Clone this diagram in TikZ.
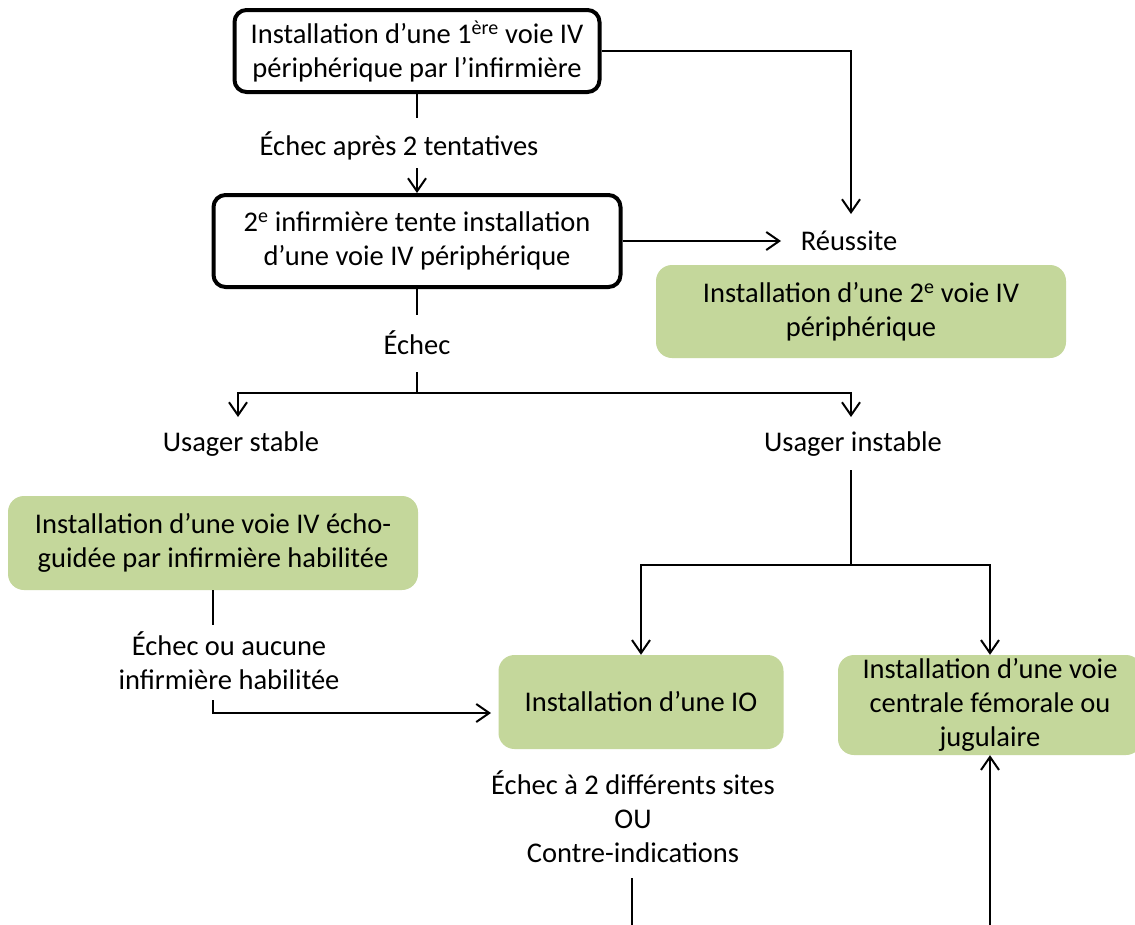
\documentclass[tikz,border=0pt]{standalone}
\usepackage{fontspec}
\setmainfont{Carlito}
\usetikzlibrary{arrows.meta}
\definecolor{gfill}{RGB}{196,215,155}
\tikzset{
  blackbox/.style={draw=black, line width=4pt, rounded corners=12pt, fill=white, align=center, inner sep=0pt},
  greenbox/.style={fill=gfill, rounded corners=16pt, align=center, inner sep=0pt},
  lbl/.style={align=center, inner sep=0pt},
  conn/.style={line width=2pt, black},
  arr/.style={conn, -{Straight Barb[length=13pt,width=18pt,line width=2pt]}},
}
\begin{document}
\begin{tikzpicture}[x=1pt,y=-1pt, font=\fontsize{28.5}{34}\selectfont]
\clip (0,0) rectangle (1135,924);
\fill[white] (0,0) rectangle (1135,924);

% boxes
\node[blackbox, minimum width=365pt, minimum height=82pt] (b1) at (417,51)
  {Installation d’une 1\textsuperscript{ère} voie IV\\périphérique par l’infirmière};
\node[blackbox, minimum width=407pt, minimum height=92pt] (b2) at (417,241)
  {2\textsuperscript{e} infirmière tente installation\\d’une voie IV périphérique};
\node[greenbox, minimum width=410pt, minimum height=93pt] (g1) at (861,311.5)
  {Installation d’une 2\textsuperscript{e} voie IV\\périphérique};
\node[greenbox, minimum width=410pt, minimum height=94pt] (g2) at (213,543)
  {Installation d’une voie IV écho-\\guidée par infirmière habilitée};
\node[greenbox, minimum width=285pt, minimum height=94pt] (g3) at (641,702)
  {Installation d’une IO};
\node[greenbox, minimum width=304pt, minimum height=100pt] (g4) at (990,705)
  {Installation d’une voie\\centrale fémorale ou\\jugulaire};

% labels
\node[lbl] (l1) at (399,146) {Échec après 2 tentatives};
\node[lbl] (reussite) at (849,241) {Réussite};
\node[lbl] (l2) at (417,343) {Échec};
\node[lbl] (stable) at (241,444) {Usager stable};
\node[lbl] (instable) at (853,444) {Usager instable};
\node[lbl] (l3) at (229,661) {Échec ou aucune\\infirmière habilitée};
\node[lbl] (l4) at (633,817) {Échec à 2 différents sites\\OU\\Contre-indications};

% coordinates
\coordinate (c1a) at (417,118);
\coordinate (c1b) at (417,168);
\coordinate (r1) at (851,214);
\coordinate (r2) at (781,241);
\coordinate (c2a) at (417,315);
\coordinate (c2b) at (417,372);
\coordinate (c2c) at (417,393);
\coordinate (s1) at (238,417);
\coordinate (s2) at (851,417);
\coordinate (c3a) at (851,470);
\coordinate (c3b) at (851,565);
\coordinate (c4a) at (213,625);
\coordinate (c4b) at (213,700);
\coordinate (c4c) at (491,713);
\coordinate (c5a) at (632,878);
\coordinate (c5b) at (632,930);
\coordinate (c6) at (990,930);

% connectors
\draw[conn] (b1.south) -- (c1a);
\draw[arr] (c1b) -- (b2.north);
\draw[arr] (b1.east) -| (r1);
\draw[arr] (b2.east) -- (r2);
\draw[conn] (b2.south) -- (c2a);
\draw[conn] (c2b) -- (c2c);
\draw[arr] (c2c) -| (s1);
\draw[arr] (c2c) -| (s2);
\draw[conn] (c3a) -- (c3b);
\draw[arr] (c3b) -| (g3.north);
\draw[arr] (c3b) -| (g4.north);
\draw[conn] (g2.south) -- (c4a);
\draw[arr] (c4b) |- (c4c);
\draw[conn] (c5a) -- (c5b);
\draw[arr] (c6) -- (g4.south);
\end{tikzpicture}
\end{document}
